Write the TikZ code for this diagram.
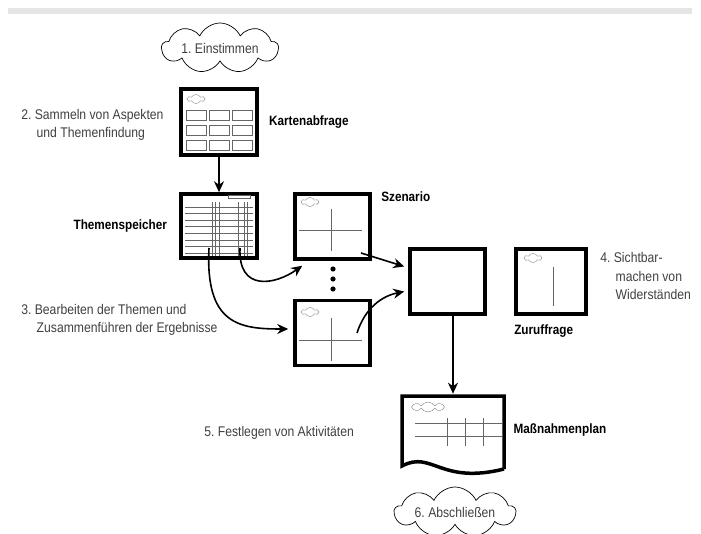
\documentclass[tikz,border=0pt]{standalone}
\usepackage{fontspec}
\setmainfont{Liberation Sans}[FakeStretch=0.87]
\usetikzlibrary{arrows.meta,shapes.symbols,calc,positioning}

\begin{document}
\begin{tikzpicture}[x=1pt,y=-1pt,>={Stealth[length=11pt,width=10pt]},
                    semithick]
  \tikzstyle{rahmen}=[draw,line width=3.5pt,inner sep=0pt]
  \tikzstyle{wolke}=[cloud,draw,cloud puffs=9,cloud puff arc=130,cloud ignores aspect,
                     line width=0.7pt,text=black!75,font=\fontsize{14}{16}\selectfont]
  \tikzstyle{mini}=[cloud,draw=black!50,cloud puffs=6,cloud puff arc=120,cloud ignores aspect,
                    line width=0.4pt,minimum width=17pt,minimum height=9pt,inner sep=0pt]
  \tikzstyle{fein}=[draw=black!60,line width=0.7pt]
  \tikzstyle{schritt}=[text=black!75,font=\fontsize{14}{18.5}\selectfont,align=left,
                       inner sep=0pt,anchor=west]
  \tikzstyle{titel}=[font=\bfseries\fontsize{13.5}{15}\selectfont,inner sep=0pt]
  \tikzstyle{pfeil}=[->,line width=1.6pt]

  \useasboundingbox (0,0) rectangle (701,534);
  \fill[black!10] (8,8) rectangle (692,14);

  \node[wolke,minimum width=96pt,minimum height=50pt] (EIN)    at (220,48)      {1.\ Einstimmen};
  \node[rahmen,minimum width=76pt,minimum height=66pt] (KARTEN) at (219,122)     {};
  \node[rahmen,minimum width=76pt,minimum height=64pt] (THEMEN) at (219,226)     {};
  \node[rahmen,minimum width=75pt,minimum height=65pt] (SZEN1)  at (332.5,226.5) {};
  \node[rahmen,minimum width=75pt,minimum height=65pt] (SZEN2)  at (332.5,333)   {};
  \node[rahmen,minimum width=75pt,minimum height=65pt] (MITTE)  at (447.5,281.5) {};
  \node[rahmen,minimum width=70pt,minimum height=65pt] (ZURUF)  at (551,281.5)   {};
  \node[minimum width=102pt,minimum height=72pt]       (PLAN)   at (453,430)     {};
  \node[wolke,minimum width=95pt,minimum height=50pt]  (ENDE)   at (455,512)     {6.\ Abschließen};

  \node[titel,right=10pt of KARTEN]  (KARTENL) {Kartenabfrage};
  \node[titel,left=12pt of THEMEN]   (THEMENL) {Themenspeicher};
  \node[titel,anchor=west]           (SZENL)  at (381,197) {Szenario};
  \node[titel,anchor=west]           (ZURUFL) at (514,331) {Zuruffrage};
  \node[titel,right=9pt of PLAN]     (PLANL)   {Maßnahmenplan};

  \node[schritt] (S2) at (21,125)  {2.\ Sammeln von Aspekten\\\hspace*{1.1em}und Themenfindung};
  \node[schritt] (S3) at (21,320)  {3.\ Bearbeiten der Themen und\\\hspace*{1.1em}Zusammenführen der Ergebnisse};
  \node[schritt] (S4) at (600,276) {4.\ Sichtbar-\\\hspace*{1.1em}machen von\\\hspace*{1.1em}Widerständen};
  \node[schritt] (S5) at (204,433) {5.\ Festlegen von Aktivitäten};

  % Karten
  \node[mini] (WK) at (196,99) {};
  \foreach \x in {186,209,232}
    \foreach \y in {110,125,140}
      \draw[fein] (\x,\y) rectangle +(20,10);

  % Themenspeicher
  \foreach \y in {207,213.6,220.2,226.8,233.4,240,246.6,253.2}
    \draw[fein] (185,\y) -- (253,\y);
  \foreach \x in {212,215,219.5,238,244,247.5}
    \draw[fein] (\x,202) -- (\x,256);
  \draw[fein] (228,195) rectangle (250,198.5);

  % Szenario
  \node[mini] (WS1) at (310,202) {};
  \node[mini] (WS2) at (310,312) {};
  \draw[fein] (299,230) -- (362,230) (331,209) -- (331,251);
  \draw[fein] (299,340) -- (362,340) (331,318) -- (331,361);
  \foreach \y in {269,279,289}
    \fill (333,\y) circle (2.6);

  % Zuruffrage
  \node[mini] (WZ) at (533,258) {};
  \draw[fein] (553,267) -- (553,306);

  % Massnahmenplan
  \draw[line width=3.5pt] (504,469) -- (504,396) -- (402,396) -- (402,466)
        .. controls (432,450) and (440,485) .. (504,469);
  \node[mini,cloud puffs=8,minimum width=33pt,minimum height=10pt] (WP) at (428,407) {};
  \draw[fein] (415,423) -- (502,423) (415,436) -- (502,436);
  \foreach \x in {447,465,483}
    \draw[fein] (\x,418) -- (\x,446);

  \coordinate (TA) at (240,248);
  \coordinate (TB) at (209,248);
  \coordinate (SA) at (361,253);
  \coordinate (SB) at (357,333);

  \draw[pfeil] (KARTEN) -- (THEMEN);
  \draw[pfeil] (TA) .. controls (238,292) and (275,285) .. ($(SZEN1.south west)+(9,5)$);
  \draw[pfeil] (TB) .. controls (205,325) and (240,329) .. ($(SZEN2.west)+(-5,-4)$);
  \draw[pfeil] (SA) -- ($(MITTE.west)+(-4,-15)$);
  \draw[pfeil] (SB) .. controls (365,308) and (382,296) .. ($(MITTE.west)+(-4,10)$);
  \draw[pfeil] (MITTE.south -| PLAN.north) -- (PLAN.north);
\end{tikzpicture}
\end{document}
